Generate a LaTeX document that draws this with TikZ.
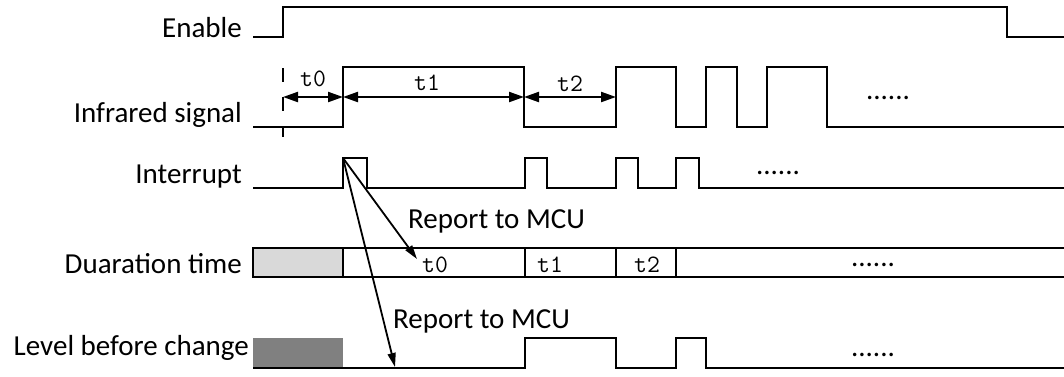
\documentclass[tikz,border=0pt]{standalone}
\usepackage{fontspec}
\setmainfont{Carlito}
\usepackage{tikz}
\usetikzlibrary{arrows.meta}

\begin{document}
\begin{tikzpicture}[x=1pt, y=-1pt,
    wave/.style={line width=2.4pt, line join=miter},
    lbl/.style={anchor=base east, inner sep=0pt, font=\fontsize{29}{34}\selectfont},
    tlbl/.style={anchor=base, inner sep=0pt, font=\fontsize{25}{28}\ttfamily},
    dots/.style={anchor=base, inner sep=0pt, font=\fontsize{29}{34}\selectfont},
    span/.style={{Triangle[length=15pt,width=10pt]}-{Triangle[length=15pt,width=10pt]}, line width=2.2pt},
    report/.style={-{Triangle[length=14pt,width=8pt]}, line width=1.8pt}
  ]
  \useasboundingbox (0,0) rectangle (1064,376);

  % row labels
  \node[lbl] (enable)    at (242,37)  {Enable};
  \node[lbl] (infrared)  at (242,122) {Infrared signal};
  \node[lbl] (interrupt) at (242,183) {Interrupt};
  \node[lbl] (duration)  at (242,273) {Duaration time};
  \node[lbl] (level)     at (249,355) {Level before change};

  % waveforms
  \draw[wave] (253,37) -- (283,37) -- (283,7) -- (1007,7) -- (1007,37) -- (1064,37);
  \draw[wave] (253,127) -- (343,127) -- (343,67) -- (524,67) -- (524,127)
              -- (616,127) -- (616,67) -- (676,67) -- (676,127)
              -- (706,127) -- (706,67) -- (737,67) -- (737,127)
              -- (767,127) -- (767,67) -- (827,67) -- (827,127) -- (1064,127);
  \draw[wave] (253,188) -- (343,188) -- (343,158) -- (367,158) -- (367,188)
              -- (525,188) -- (525,158) -- (547,158) -- (547,188)
              -- (616,188) -- (616,158) -- (638,158) -- (638,188)
              -- (676,188) -- (676,158) -- (699,158) -- (699,188) -- (1064,188);
  \fill[black!50] (253,338) rectangle (343,368);
  \draw[wave] (253,368) -- (525,368) -- (525,338) -- (616,338) -- (616,368)
              -- (676,368) -- (676,338) -- (706,338) -- (706,368) -- (1064,368);

  % duration cells
  \draw[wave, fill=black!15] (253,248) rectangle (343,277);
  \draw[wave] (343,248) -- (1064,248);
  \draw[wave] (343,277) -- (1064,277);
  \foreach \x in {525,616,676}
    \draw[wave] (\x,248) -- (\x,277);
  \node[tlbl] (d0) at (435,272) {t0};
  \node[tlbl] (d1) at (550,272) {t1};
  \node[tlbl] (d2) at (647,272) {t2};
  \node[dots] (ddots) at (873,266) {......};

  % time spans on the infrared signal
  \draw[wave, dash pattern=on 14pt off 15pt] (283,68) -- (283,137);
  \coordinate (m0) at (283,97);
  \coordinate (m1) at (343,97);
  \coordinate (m2) at (524,97);
  \coordinate (m3) at (616,97);
  \draw[span] (m0) -- (m1);
  \draw[span] (m1) -- (m2);
  \draw[span] (m2) -- (m3);
  \node[tlbl] (s0) at (313,86) {t0};
  \node[tlbl] (s1) at (427,90) {t1};
  \node[tlbl] (s2) at (570,91) {t2};
  \node[dots] (idots) at (888,99) {......};
  \node[dots] (qdots) at (778,174) {......};
  \node[dots] (ldots) at (873,356) {......};

  % reports
  \coordinate (irq) at (343,158);
  \coordinate (tgt0) at (417,259);
  \coordinate (tgt1) at (395,367);
  \draw[report] (irq) -- (tgt0);
  \draw[report] (irq) -- (tgt1);
  \node[lbl, anchor=base west] (rep0) at (408,228) {Report to MCU};
  \node[lbl, anchor=base west] (rep1) at (393,328) {Report to MCU};
\end{tikzpicture}
\end{document}
